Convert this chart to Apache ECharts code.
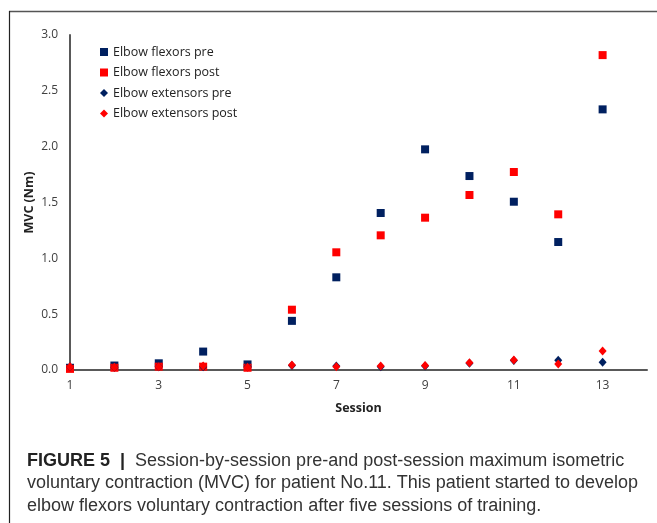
<!DOCTYPE html>
<html>
<head>
<meta charset="utf-8">
<script src="https://cdn.jsdelivr.net/npm/echarts@6/dist/echarts.min.js"></script>
<style>
html,body{margin:0;padding:0;background:#fff;}
#chart{width:657px;height:523px;}
</style>
</head>
<body>
<div id="chart"></div>
<script>
const sessions = [1,2,3,4,5,6,7,8,9,10,11,12,13];
const flexorsPre  = [0.02,0.04,0.06,0.165,0.05,0.44,0.83,1.406,1.976,1.737,1.507,1.146,2.334];
const flexorsPost = [0.01,0.02,0.03,0.03,0.02,0.54,1.054,1.206,1.364,1.567,1.773,1.394,2.82];
const extensorsPre  = [0.03,0.025,0.03,0.03,0.03,0.04,0.035,0.03,0.035,0.06,0.085,0.087,0.069];
const extensorsPost = [0.03,0.024,0.03,0.035,0.024,0.045,0.03,0.035,0.04,0.065,0.09,0.054,0.17];
const seriesNames = ['Elbow flexors pre','Elbow flexors post','Elbow extensors pre','Elbow extensors post'];
const yTicks = [0,0.5,1.0,1.5,2.0,2.5,3.0];
const captionLines = [
  ['FIGURE 5  |  ', 'Session-by-session pre-and post-session maximum isometric'],
  ['', 'voluntary contraction (MVC) for patient No.11. This patient started to develop'],
  ['', 'elbow flexors voluntary contraction after five sessions of training.']
];

const NAVY = '#002060', RED = '#ff0000';
const pair = arr => sessions.map((s,i)=>[s,arr[i]]);

const chart = echarts.init(document.getElementById('chart'));
const fontUI = '"Open Sans", "Liberation Sans", sans-serif';

const captionGraphics = captionLines.map((ln,i)=>({
  type:'text', left:27, top:452 + i*22.5,
  style:{
    rich:{
      b:{font:'bold 18px "Liberation Sans", Arial, sans-serif', fill:'#222'},
      n:{font:'18px "Liberation Sans", Arial, sans-serif', fill:'#333'}
    },
    text:(ln[0]?'{b|'+ln[0]+'}':'')+'{n|'+ln[1]+'}'
  }
}));

chart.setOption({
  backgroundColor:'#fff',
  animation:false,
  grid:{left:70, right:10, top:35, bottom:153},
  legend:{
    orient:'vertical', left:95, top:40,
    itemWidth:8, itemHeight:8, itemGap:6.5,
    textStyle:{fontFamily:fontUI, fontSize:12.5, color:'#222', lineHeight:14},
    data:[
      {name:seriesNames[0], icon:'rect'},
      {name:seriesNames[1], icon:'rect'},
      {name:seriesNames[2], icon:'diamond'},
      {name:seriesNames[3], icon:'diamond'}
    ]
  },
  xAxis:{
    type:'value', min:1, max:14, interval:1,
    name:'Session', nameLocation:'middle', nameGap:32, nameMoveOverlap:false,
    nameTextStyle:{fontFamily:fontUI, fontWeight:'bold', fontSize:12.5, color:'#222'},
    axisLine:{lineStyle:{color:'#595959', width:2}},
    axisTick:{show:false},
    splitLine:{show:false},
    axisLabel:{
      margin:10, fontFamily:fontUI, fontSize:12, color:'#404040',
      formatter:v=> (v%2===1 && v<=13) ? String(v) : ''
    }
  },
  yAxis:{
    type:'value', min:yTicks[0], max:yTicks[yTicks.length-1], interval:0.5,
    name:'MVC (Nm)', nameLocation:'middle', nameGap:34, nameMoveOverlap:false,
    nameTextStyle:{fontFamily:fontUI, fontWeight:'bold', fontSize:12.5, color:'#222'},
    axisLine:{show:true, lineStyle:{color:'#595959', width:2}},
    axisTick:{show:false},
    splitLine:{show:false},
    axisLabel:{margin:12, fontFamily:fontUI, fontSize:12, color:'#404040',
      formatter:v=>v.toFixed(1)}
  },
  series:[
    {name:seriesNames[0], type:'scatter', symbol:'rect', symbolSize:8, itemStyle:{color:NAVY, opacity:1}, data:pair(flexorsPre), z:2},
    {name:seriesNames[1], type:'scatter', symbol:'rect', symbolSize:8, itemStyle:{color:RED, opacity:1}, data:pair(flexorsPost), z:3},
    {name:seriesNames[2], type:'scatter', symbol:'diamond', symbolSize:[8,9], itemStyle:{color:NAVY, opacity:1}, data:pair(extensorsPre), z:4},
    {name:seriesNames[3], type:'scatter', symbol:'diamond', symbolSize:[8,9], itemStyle:{color:RED, opacity:1}, data:pair(extensorsPost), z:5}
  ],
  graphic:[
    {type:'line', shape:{x1:9, y1:11.5, x2:657, y2:11.5}, style:{stroke:'#555', lineWidth:1.5}, z:10},
    {type:'line', shape:{x1:9.5, y1:11, x2:9.5, y2:523}, style:{stroke:'#222', lineWidth:1.2}, z:10}
  ].concat(captionGraphics)
});
</script>
</body>
</html>
